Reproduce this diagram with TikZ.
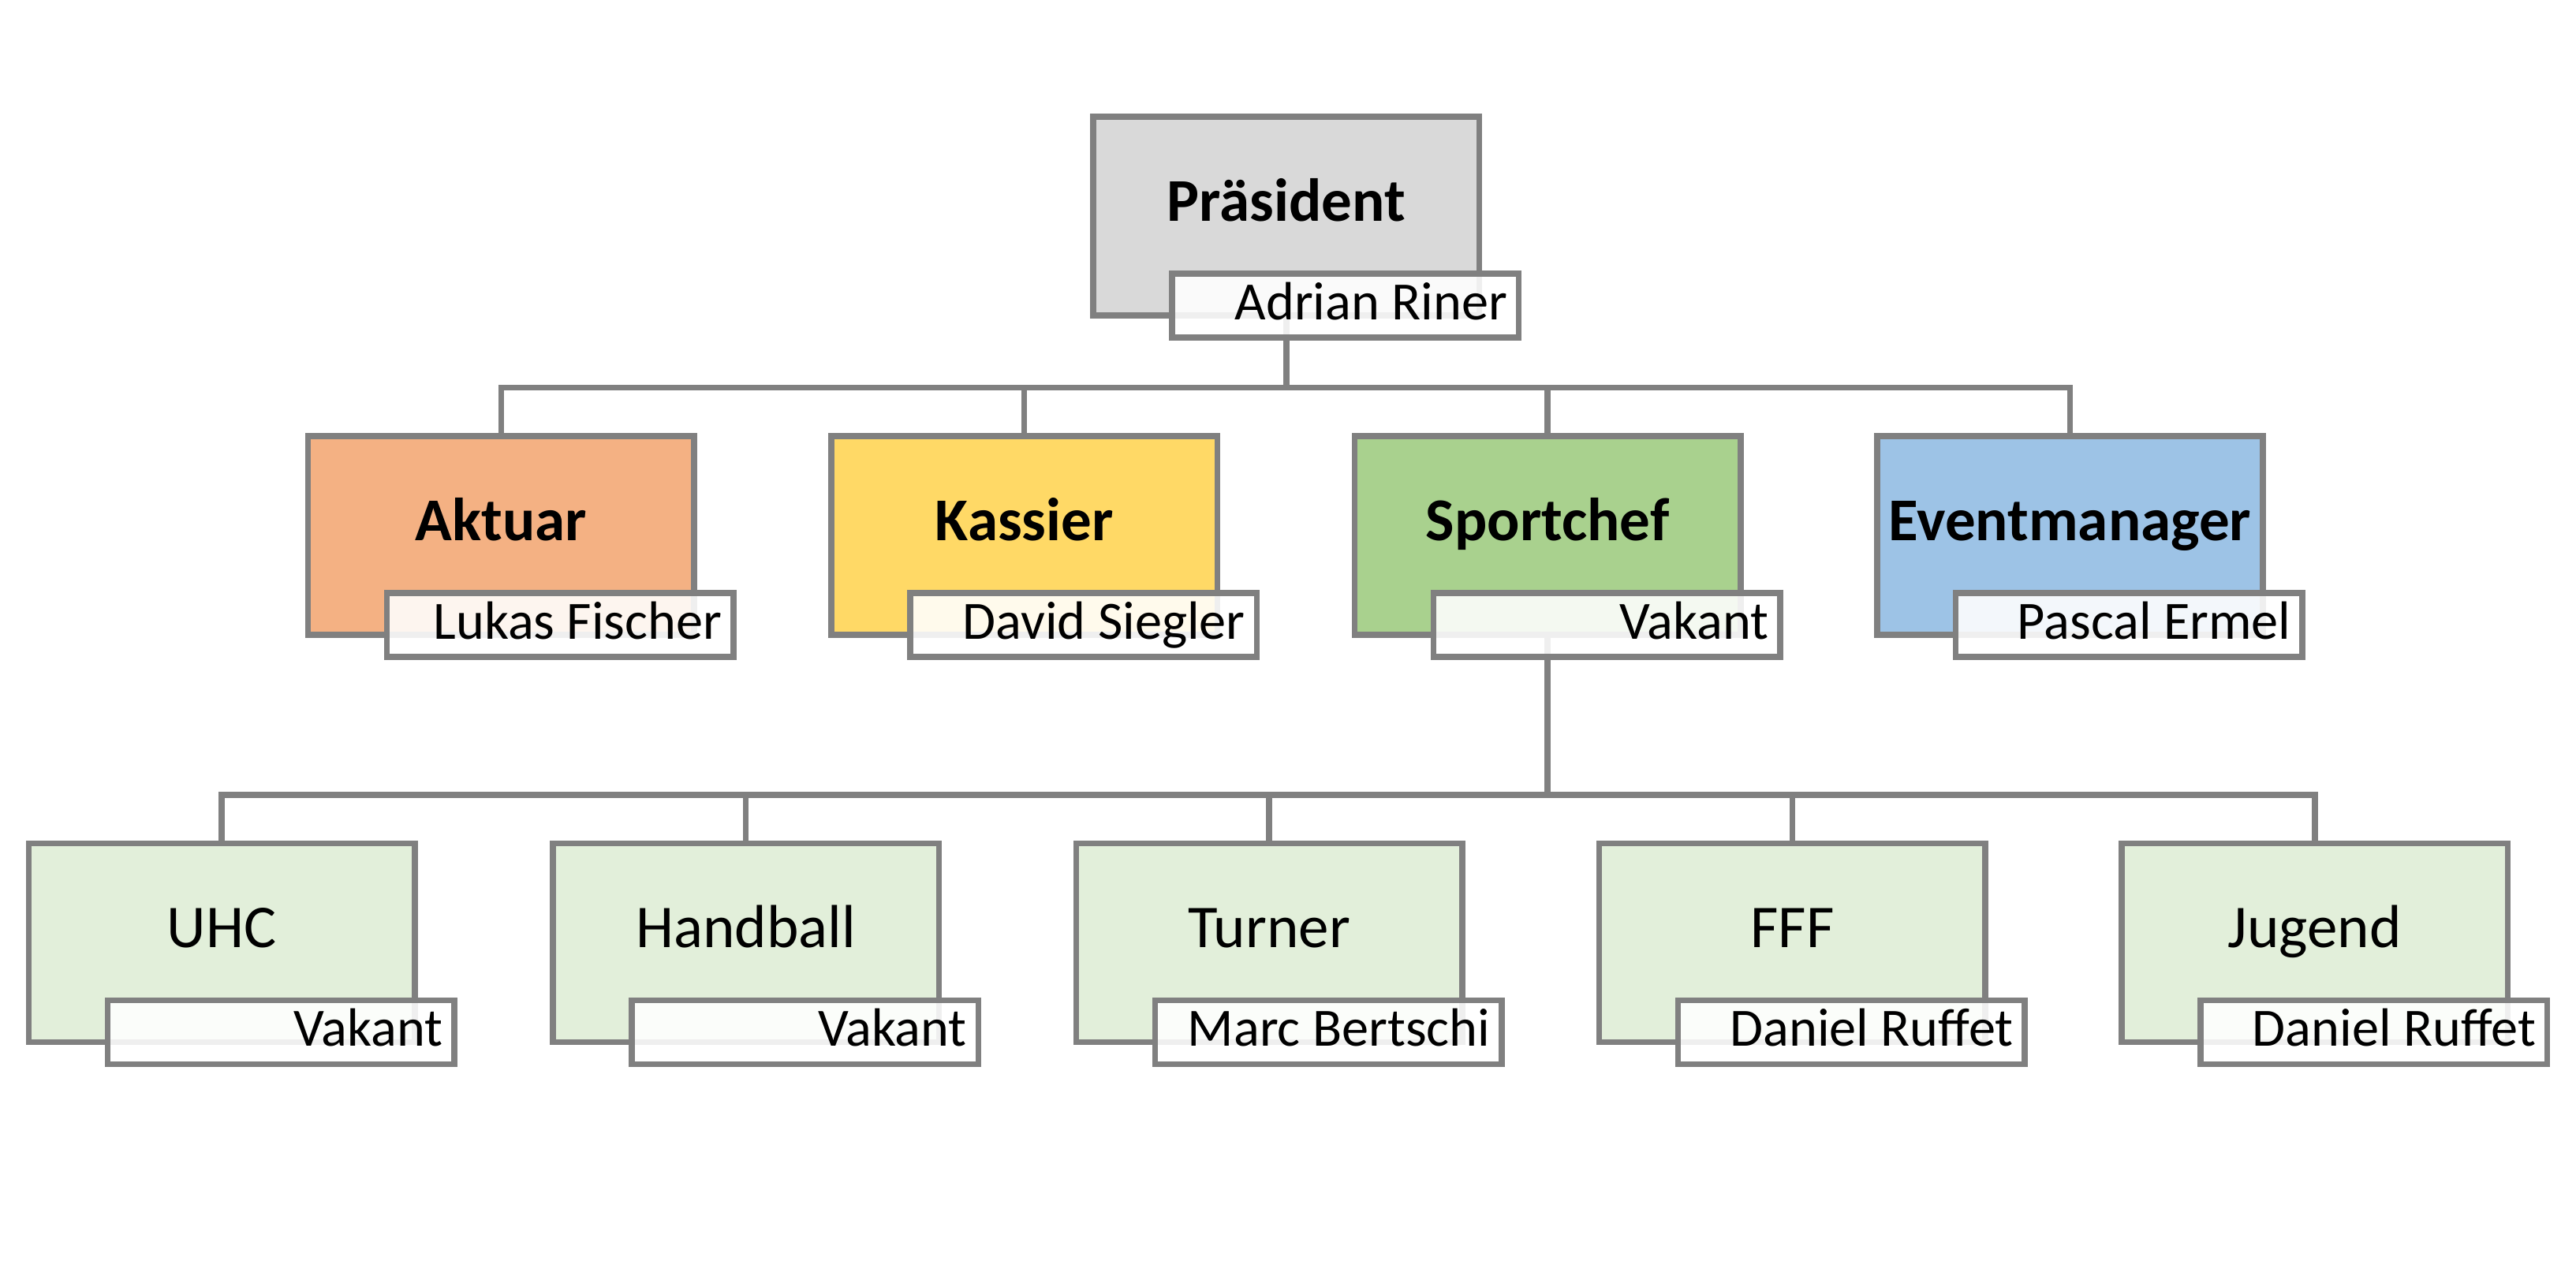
\documentclass[tikz,border=0pt]{standalone}
\usepackage{fontspec}
\setmainfont{Carlito}
\usetikzlibrary{backgrounds}
\definecolor{linegray}{HTML}{808080}
\definecolor{cPres}{HTML}{D9D9D9}
\definecolor{cAkt}{HTML}{F4B183}
\definecolor{cKas}{HTML}{FFD966}
\definecolor{cSpo}{HTML}{A9D18E}
\definecolor{cEve}{HTML}{9DC3E6}
\definecolor{cSub}{HTML}{E2EFDA}
\begin{document}
\begin{tikzpicture}[x=0.5pt,y=-0.5pt,
  rolebox/.style={draw=linegray, line width=1.8pt, minimum width=117.5pt, minimum height=60.5pt, inner sep=0pt, outer sep=0pt},
  namebox/.style={draw=linegray, line width=1.8pt, fill=white, fill opacity=0.88, text opacity=1, minimum width=105.5pt, minimum height=19.5pt, inner sep=0pt, outer sep=0pt, anchor=south east},
  boldtitle/.style={anchor=base, inner sep=0pt, font=\fontsize{18.5}{20}\selectfont\bfseries},
  plaintitle/.style={anchor=base, inner sep=0pt, font=\fontsize{18.5}{20}\selectfont},
  nametext/.style={anchor=base east, inner sep=0pt, font=\fontsize{16.4}{18}\selectfont},
  conn/.style={draw=linegray, line width=1.8pt, line join=miter}
]
\useasboundingbox (0,0) rectangle (1568,774);

\newcommand{\orgunit}[6]{%
  \node[rolebox, fill=#4] (#1) at (#2,#3) {};
  \node[#5] (#1t) at ([yshift=-1.5pt]#1.center) {#6};
}
\newcommand{\orgname}[2]{%
  \node[namebox] (#1n) at ([xshift=12pt,yshift=-6.75pt]#1.south east) {};
  \node[nametext] (#1nt) at ([xshift=-3.3pt,yshift=-4.25pt]#1n.east) {#2};
}

\orgunit{P}{783}{131.5}{cPres}{boldtitle}{Präsident}
\orgname{P}{Adrian Riner}

\orgunit{A}{305}{326}{cAkt}{boldtitle}{Aktuar}
\orgname{A}{Lukas Fischer}
\orgunit{K}{623.5}{326}{cKas}{boldtitle}{Kassier}
\orgname{K}{David Siegler}
\orgunit{S}{942}{326}{cSpo}{boldtitle}{Sportchef}
\orgname{S}{Vakant}
\orgunit{E}{1260}{326}{cEve}{boldtitle}{Eventmanager}
\orgname{E}{Pascal Ermel}

\orgunit{U}{135}{574}{cSub}{plaintitle}{UHC}
\orgname{U}{Vakant}
\orgunit{H}{454}{574}{cSub}{plaintitle}{Handball}
\orgname{H}{Vakant}
\orgunit{T}{772.5}{574}{cSub}{plaintitle}{Turner}
\orgname{T}{Marc Bertschi}
\orgunit{F}{1091}{574}{cSub}{plaintitle}{FFF}
\orgname{F}{Daniel Ruffet}
\orgunit{J}{1409}{574}{cSub}{plaintitle}{Jugend}
\orgname{J}{Daniel Ruffet}

\coordinate (bus1) at (783,236);
\coordinate (bus2) at (942,484);

\begin{scope}[on background layer]
  \draw[conn] (P.south) -- (P.south |- bus1);
  \draw[conn] (A.north) -- (A.north |- bus1) -- (E.north |- bus1) -- (E.north);
  \draw[conn] (K.north) -- (K.north |- bus1);
  \draw[conn] (S.north) -- (S.north |- bus1);
  \draw[conn] (S.south) -- (S.south |- bus2);
  \draw[conn] (U.north) -- (U.north |- bus2) -- (J.north |- bus2) -- (J.north);
  \draw[conn] (H.north) -- (H.north |- bus2);
  \draw[conn] (T.north) -- (T.north |- bus2);
  \draw[conn] (F.north) -- (F.north |- bus2);
\end{scope}
\end{tikzpicture}
\end{document}
